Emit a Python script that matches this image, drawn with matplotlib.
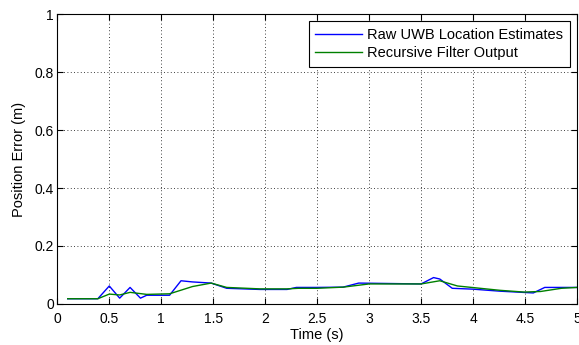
import numpy as np
import matplotlib
matplotlib.use('Agg')
import matplotlib.pyplot as plt

# raw UWB estimates
t_raw = [0.1, 0.39, 0.5, 0.6, 0.7, 0.8, 0.86, 1.08, 1.19, 1.30, 1.48, 1.63, 1.95, 2.21, 2.3,
         2.5, 2.75, 2.9, 3.5, 3.62, 3.68, 3.8, 4.0, 4.26, 4.58, 4.69, 5.0]
e_raw = [0.018, 0.018, 0.062, 0.02, 0.057, 0.02, 0.03, 0.03, 0.08, 0.076, 0.072, 0.054, 0.05, 0.05, 0.057,
         0.057, 0.058, 0.072, 0.069, 0.091, 0.086, 0.054, 0.051, 0.044, 0.038, 0.057, 0.057]

# recursive filter output
t_filt = [0.1, 0.39, 0.5, 0.6, 0.7, 0.86, 1.08, 1.3, 1.48, 1.63, 1.95, 2.21, 2.32,
          2.5, 2.75, 3.0, 3.5, 3.68, 3.85, 4.26, 4.49, 4.65, 4.85, 5.0]
e_filt = [0.018, 0.018, 0.034, 0.031, 0.04, 0.033, 0.035, 0.06, 0.072, 0.057, 0.052, 0.052, 0.054,
          0.054, 0.058, 0.069, 0.069, 0.08, 0.062, 0.047, 0.041, 0.043, 0.054, 0.057]

plt.rcParams['font.family'] = ['Liberation Sans', 'DejaVu Sans']

fig = plt.figure(figsize=(5.79, 3.45), dpi=100)
ax = fig.add_axes([0.099, 0.119, 0.8975, 0.84])

ax.plot(t_raw, e_raw, color=(0, 0, 1), lw=1, label='Raw UWB Location Estimates')
ax.plot(t_filt, e_filt, color=(0, 0.5, 0), lw=1, label='Recursive Filter Output')

ax.set_xlim(0, 5)
ax.set_ylim(0, 1)
ax.set_xticks(np.arange(0, 5.01, 0.5))
ax.set_xticklabels(['0', '0.5', '1', '1.5', '2', '2.5', '3', '3.5', '4', '4.5', '5'])
ax.set_yticks(np.arange(0, 1.01, 0.2))
ax.set_yticklabels(['0', '0.2', '0.4', '0.6', '0.8', '1'])
ax.tick_params(direction='in', length=4, width=0.8, top=True, right=True, labelsize=10)
ax.tick_params(axis='x', pad=6)
ax.tick_params(axis='y', pad=2.5)
ax.grid(True, color='black', linestyle=(0, (1, 3)), linewidth=0.6)
for s in ax.spines.values():
    s.set_linewidth(0.8)

ax.set_xlabel('Time (s)', fontsize=10.5, labelpad=1)
ax.set_ylabel('Position Error (m)', fontsize=10.5, labelpad=6)

leg = ax.legend(loc='upper right', fontsize=10.5, fancybox=False, framealpha=1,
                edgecolor='black', borderaxespad=0.5, handlelength=3.2,
                handletextpad=0.35, borderpad=0.45, labelspacing=0.3)
leg.get_frame().set_linewidth(0.8)

fig.savefig('out.png', dpi=100)
